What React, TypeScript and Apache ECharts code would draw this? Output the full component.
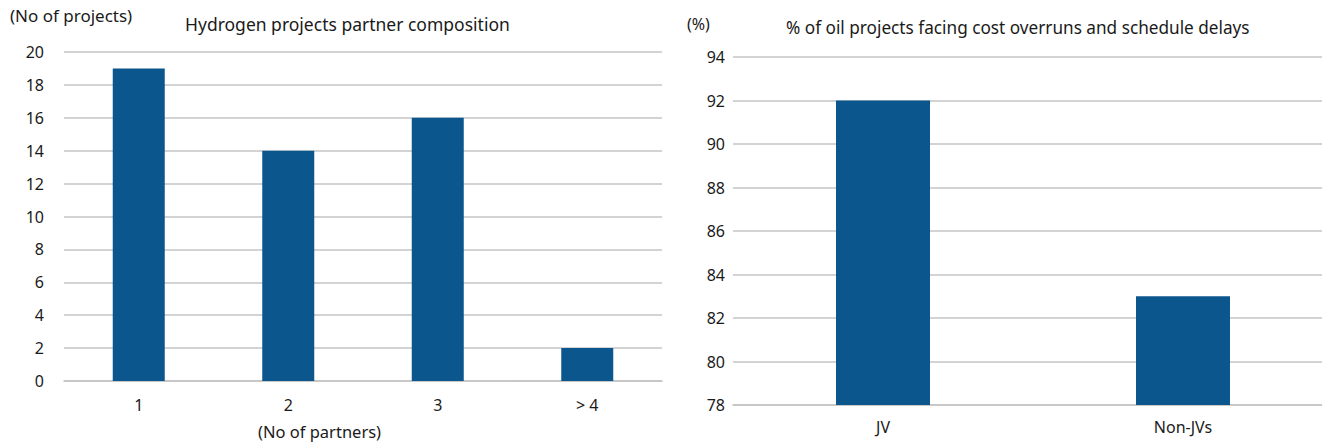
import React, { useEffect, useRef } from "react";
import * as echarts from "echarts";

const partnerCategories = ["1", "2", "3", "> 4"];
const partnerValues = [19, 14, 16, 2];
const oilCategories = ["JV", "Non-JVs"];
const oilValues = [92, 83];

const FONT = "'Noto Sans', 'Open Sans', sans-serif";
const BAR = "#0b568c";
const GRID = "#c4c4c4";
const TXT = "#1a1a1a";

export default function App() {
  const ref = useRef<HTMLDivElement>(null);
  useEffect(() => {
    document.body.style.margin = "0";
    const chart = echarts.init(ref.current!, undefined, { renderer: "svg" });
    const yLabel = { color: TXT, fontSize: 16, fontFamily: FONT };
    chart.setOption({
      animation: false,
      textStyle: { fontFamily: FONT },
      grid: [
        { left: 64, width: 598, top: 52, height: 329 },
        { left: 733, width: 600, top: 57, height: 348 },
      ],
      xAxis: [
        {
          type: "category",
          gridIndex: 0,
          data: partnerCategories,
          axisTick: { show: false },
          axisLine: { lineStyle: { color: GRID, width: 1.5 } },
          axisLabel: { color: TXT, fontSize: 16, fontFamily: FONT, margin: 16 },
        },
        {
          type: "category",
          gridIndex: 1,
          data: oilCategories,
          axisTick: { show: false },
          axisLine: { lineStyle: { color: GRID, width: 1.5 } },
          axisLabel: { color: TXT, fontSize: 16, fontFamily: FONT, margin: 14 },
        },
      ],
      yAxis: [
        {
          type: "value",
          gridIndex: 0,
          min: 0,
          max: 20,
          interval: 2,
          axisLine: { show: false },
          axisTick: { show: false },
          splitLine: { lineStyle: { color: GRID, width: 1.5 } },
          axisLabel: { ...yLabel, margin: 20 },
        },
        {
          type: "value",
          gridIndex: 1,
          min: 78,
          max: 94,
          interval: 2,
          axisLine: { show: false },
          axisTick: { show: false },
          splitLine: { lineStyle: { color: GRID, width: 1.5 } },
          axisLabel: { ...yLabel, margin: 8 },
        },
      ],
      series: [
        {
          type: "bar",
          xAxisIndex: 0,
          yAxisIndex: 0,
          data: partnerValues,
          barWidth: 52,
          itemStyle: { color: BAR },
        },
        {
          type: "bar",
          xAxisIndex: 1,
          yAxisIndex: 1,
          data: oilValues,
          barWidth: 94,
          itemStyle: { color: BAR },
        },
      ],
      graphic: [
        {
          type: "text",
          left: 10,
          top: 7,
          style: { text: "(No of projects)", fill: TXT, font: `17px ${FONT}` },
        },
        {
          type: "text",
          left: 185,
          top: 15,
          style: { text: "Hydrogen projects partner composition", fill: TXT, font: `17.5px ${FONT}` },
        },
        {
          type: "text",
          left: 258,
          top: 423,
          style: { text: "(No of partners)", fill: TXT, font: `16.5px ${FONT}` },
        },
        {
          type: "text",
          left: 687,
          top: 16,
          style: { text: "(%)", fill: TXT, font: `16px ${FONT}` },
        },
        {
          type: "text",
          left: 786,
          top: 19,
          style: { text: "% of oil projects facing cost overruns and schedule delays", fill: TXT, font: `17.2px ${FONT}` },
        },
      ],
    });
    return () => chart.dispose();
  }, []);
  return (
    <div style={{ width: 1322, height: 443, overflow: "hidden" }}>
      <div ref={ref} style={{ width: 1340, height: 443 }} />
    </div>
  );
}
